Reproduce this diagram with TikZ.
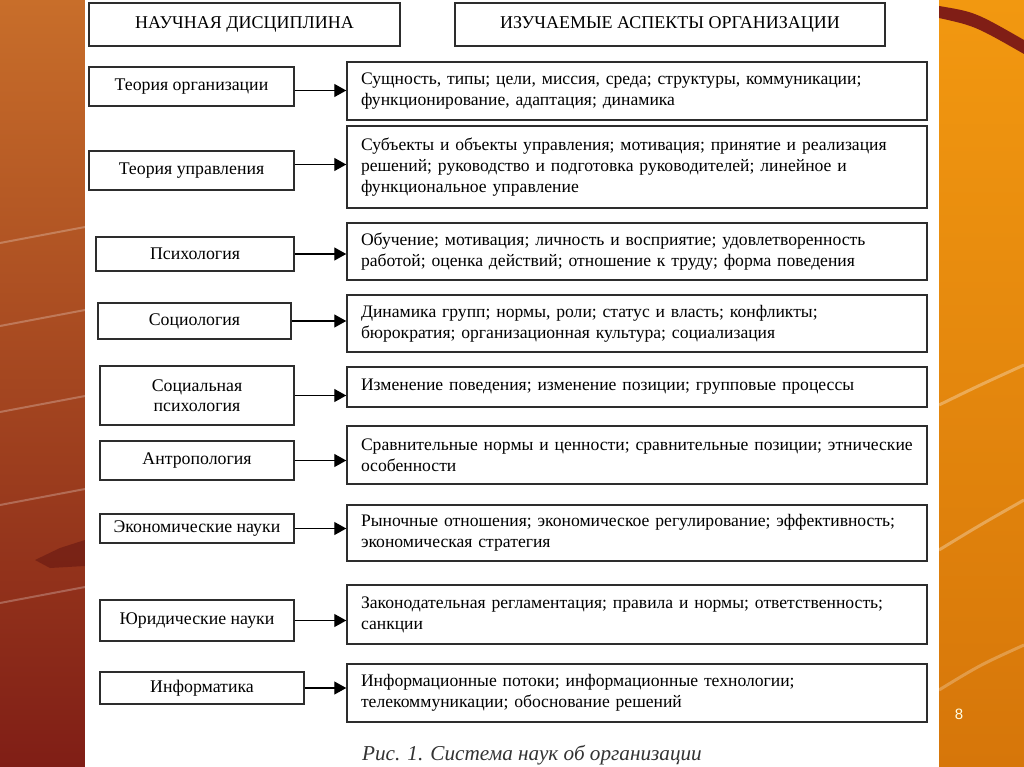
\documentclass[tikz,border=0pt]{standalone}
\usepackage{fontspec}
\setmainfont{Liberation Serif}
\newfontfamily\pagefont{Liberation Sans}
\usetikzlibrary{arrows.meta, positioning}

\definecolor{leftTop}{RGB}{200,110,42}
\definecolor{leftMid}{RGB}{168,64,28}
\definecolor{leftBot}{RGB}{128,30,22}
\definecolor{rightTop}{RGB}{242,152,16}
\definecolor{rightBot}{RGB}{214,118,10}
\definecolor{boxline}{RGB}{45,45,45}

\begin{document}
\begin{tikzpicture}
[x=1pt, y=-1pt,
head/.style={draw=boxline, line width=1.5pt, fill=white, inner sep=0pt,
             minimum height=43pt, font=\fontsize{18}{20}\selectfont},
disc/.style={draw=boxline, line width=1.5pt, fill=white, inner sep=0pt,
             align=center, font=\fontsize{17.8}{20}\selectfont},
aspect/.style={draw=boxline, line width=1.5pt, fill=white, inner xsep=14pt,
               inner ysep=0pt, text width=552pt, align=left,
               font=\fontsize{17.6}{21}\selectfont},
arr/.style={-{Triangle[length=12pt, width=13pt]}, line width=1.3pt, draw=black}
]
    \useasboundingbox (0,0) rectangle (1024,767);

    % slide background
    \shade[top color=leftTop, middle color=leftMid, bottom color=leftBot] (0,0) rectangle (85,767);
    \shade[top color=rightTop, bottom color=rightBot] (939,0) rectangle (1024,767);
    \foreach \y in {243,326,412,505,603}
        \draw[white, opacity=.25, line width=2pt] (0,\y) -- (85,\y-16);
    \fill[leftBot!80!black, opacity=.6] (35,560) -- (60,548) -- (85,540) -- (85,566) -- (50,568) -- cycle;
    \fill[leftBot] (939,6) .. controls (975,12) .. (1024,40) -- (1024,54) .. controls (975,26) .. (939,18) -- cycle;
    \draw[white, opacity=.3, line width=3pt] (939,405) .. controls (980,385) .. (1024,365);
    \draw[white, opacity=.3, line width=3pt] (939,550) .. controls (980,525) .. (1024,500);
    \draw[white, opacity=.25, line width=3pt] (939,690) .. controls (980,665) .. (1024,645);
    \fill[white] (85,0) rectangle (939,767);

    % headers
    \node[head, minimum width=311pt] (hdisc) at (244.5,24.5) {НАУЧНАЯ ДИСЦИПЛИНА};
    \node[head, minimum width=430pt] (haspect) at (670,24.5) {ИЗУЧАЕМЫЕ АСПЕКТЫ ОРГАНИЗАЦИИ};

    % disciplines
    \node[disc, minimum width=205pt, minimum height=39pt] (orgth) at (191.5,86.5) {Теория организации};
    \node[disc, minimum width=205pt, minimum height=39pt] (mgmt) at (191.5,170.5) {Теория управления};
    \node[disc, minimum width=198pt, minimum height=34pt] (psych) at (195,254) {Психология};
    \node[disc, minimum width=193pt, minimum height=36pt] (socio) at (194.5,321) {Социология};
    \node[disc, minimum width=194pt, minimum height=59pt] (socpsych) at (197,395.5) {Социальная\\психология};
    \node[disc, minimum width=194pt, minimum height=39pt] (anthro) at (197,460.5) {Антропология};
    \node[disc, minimum width=194pt, minimum height=29pt] (econ) at (197,528.5) {Экономические науки};
    \node[disc, minimum width=194pt, minimum height=41pt] (law) at (197,620.5) {Юридические науки};
    \node[disc, minimum width=204pt, minimum height=32pt] (inform) at (202,688) {Информатика};

    % aspects
    \node[aspect, minimum height=58pt] (a-orgth) at (637,91) {Сущность, типы; цели, миссия, среда; структуры, коммуникации;\\
        функционирование, адаптация; динамика};
    \node[aspect, minimum height=82pt] (a-mgmt) at (637,167) {Субъекты и объекты управления; мотивация; принятие и реализация\\
        решений; руководство и подготовка руководителей; линейное и\\
        функциональное управление};
    \node[aspect, minimum height=57pt] (a-psych) at (637,251.5) {Обучение; мотивация; личность и восприятие; удовлетворенность\\
        работой; оценка действий; отношение к труду; форма поведения};
    \node[aspect, minimum height=57pt] (a-socio) at (637,323.5) {Динамика групп; нормы, роли; статус и власть; конфликты;\\
        бюрократия; организационная культура; социализация};
    \node[aspect, minimum height=40pt] (a-socpsych) at (637,387) {Изменение поведения; изменение позиции; групповые процессы};
    \node[aspect, minimum height=58pt] (a-anthro) at (637,455) {Сравнительные нормы и ценности; сравнительные позиции; этнические\\
        особенности};
    \node[aspect, minimum height=56pt] (a-econ) at (637,533) {Рыночные отношения; экономическое регулирование; эффективность;\\
        экономическая стратегия};
    \node[aspect, minimum height=59pt] (a-law) at (637,614.5) {Законодательная регламентация; правила и нормы; ответственность;\\
        санкции};
    \node[aspect, minimum height=58pt] (a-inform) at (637,693) {Информационные потоки; информационные технологии;\\
        телекоммуникации; обоснование решений};

    % connectors
    \draw[arr] ([yshift=-4pt]orgth.east) -- ([yshift=-4pt]orgth.east -| a-orgth.west);
    \draw[arr] ([yshift=6pt]mgmt.east) -- ([yshift=6pt]mgmt.east -| a-mgmt.west);
    \draw[arr] (psych) -- (psych -| a-psych.west);
    \draw[arr] (socio) -- (socio -| a-socio.west);
    \draw[arr] (socpsych) -- (socpsych -| a-socpsych.west);
    \draw[arr] (anthro) -- (anthro -| a-anthro.west);
    \draw[arr] (econ) -- (econ -| a-econ.west);
    \draw[arr] (law) -- (law -| a-law.west);
    \draw[arr] (inform) -- (inform -| a-inform.west);

    \node[font=\fontsize{21.2}{24}\selectfont\itshape, text=black!80] (caption) at (532,755) {Рис. 1. Система наук об организации};
    \node[font=\pagefont\fontsize{15}{17}\selectfont, text=white!90!yellow] (pagenum) at (959,714) {8};
\end{tikzpicture}
\end{document}
